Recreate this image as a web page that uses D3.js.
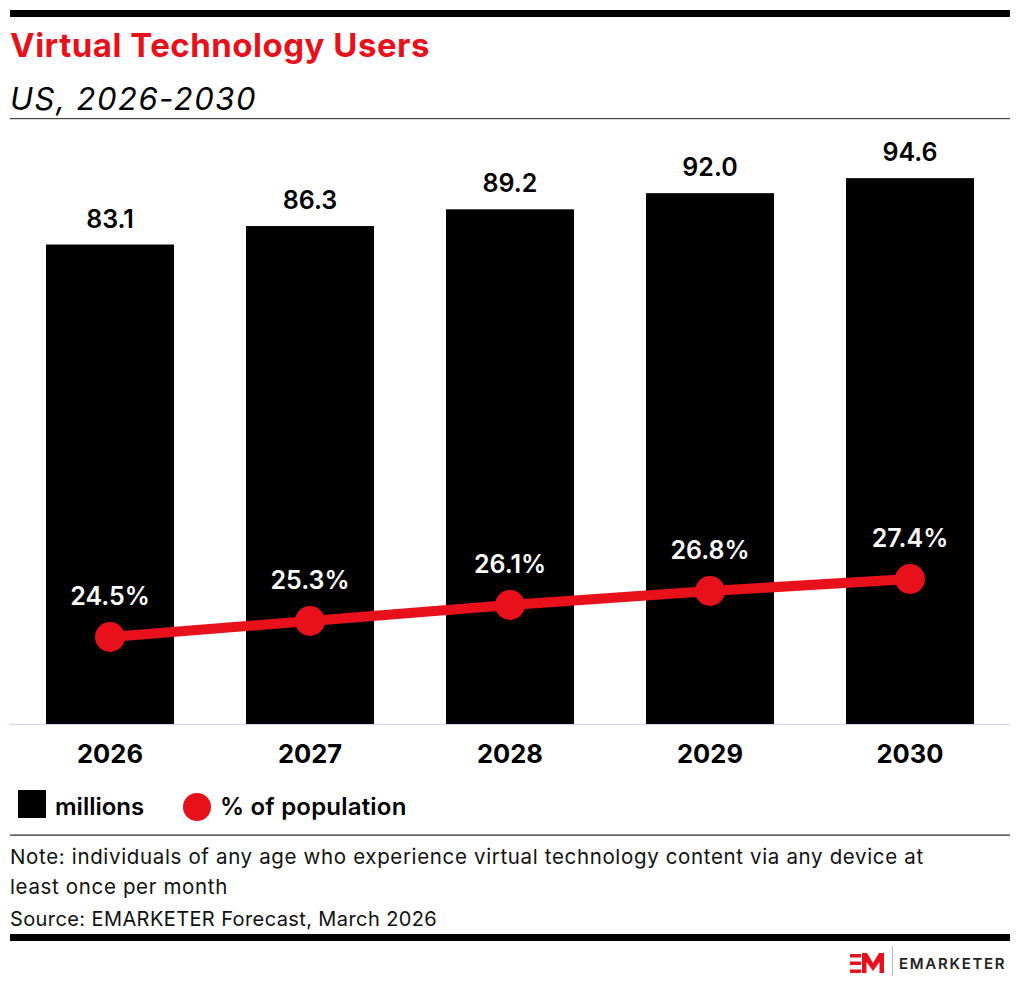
<!DOCTYPE html>
<html>
<head>
<meta charset="utf-8">
<script src="https://cdn.jsdelivr.net/npm/d3@7"></script>
<style>
  html, body { margin: 0; padding: 0; background: #fff; }
  svg { display: block; }
  text { font-family: Inter, "Noto Sans", sans-serif; }
</style>
</head>
<body>
<svg id="chart" width="1020" height="984"></svg>
<script>
const years = ["2026", "2027", "2028", "2029", "2030"];
const millions = [83.1, 86.3, 89.2, 92.0, 94.6];
const pctPopulation = [24.5, 25.3, 26.1, 26.8, 27.4];
const legendLabels = ["millions", "% of population"];
const titleText = "Virtual Technology Users";
const subtitleText = "US, 2026-2030";
const noteLines = ["Note: individuals of any age who experience virtual technology content via any device at", "least once per month"];
const sourceText = "Source: EMARKETER Forecast, March 2026";

const RED = "#e8111b";
const svg = d3.select("#chart");

// frame rules
svg.append("rect").attr("x", 10).attr("y", 10).attr("width", 1000).attr("height", 7).attr("fill", "#000");
svg.append("text").attr("x", 10).attr("y", 57).attr("fill", RED)
  .attr("font-size", 33).attr("font-weight", 700).attr("letter-spacing", 0.5).text(titleText);
svg.append("text").attr("x", 10).attr("y", 110).attr("fill", "#000")
  .attr("font-size", 31).attr("font-style", "italic").attr("font-weight", 400)
  .attr("letter-spacing", 1.5).text(subtitleText);
svg.append("rect").attr("x", 10).attr("y", 118).attr("width", 1000).attr("height", 1.2).attr("fill", "#444");

// scales
const x = d3.scaleBand().domain(years).range([10, 1010]).paddingInner(0.36).paddingOuter(0.18);
const y = d3.scaleLinear().domain([0, 100]).range([724, 147]);
const y2 = d3.scaleLinear().domain([20, 30]).range([727, 527]);

// baseline
svg.append("line").attr("x1", 10).attr("x2", 1010).attr("y1", y(0) + 0.5).attr("y2", y(0) + 0.5)
  .attr("stroke", "#c9d9ee").attr("stroke-width", 1);

// bars
const data = years.map((yr, i) => ({ yr, m: millions[i], p: pctPopulation[i] }));
svg.append("g").selectAll("rect").data(data).join("rect")
  .attr("x", d => x(d.yr)).attr("width", x.bandwidth())
  .attr("y", d => y(d.m)).attr("height", d => y(0) - y(d.m))
  .attr("fill", "#000");

svg.append("g").selectAll("text").data(data).join("text")
  .attr("x", d => x(d.yr) + x.bandwidth() / 2).attr("y", d => y(d.m) - 17)
  .attr("text-anchor", "middle").attr("font-size", 25).attr("font-weight", 600)
  .attr("fill", "#000").text(d => d.m.toFixed(1));

// x axis labels
const xAxis = d3.axisBottom(x).tickSize(0).tickPadding(0);
const gx = svg.append("g").attr("transform", `translate(0,${y(0)})`).call(xAxis);
gx.select(".domain").remove();
gx.selectAll("text").attr("dy", null).attr("y", 39)
  .attr("font-size", 25.5).attr("font-weight", 700).attr("fill", "#000")
  .style("font-family", "Inter, 'Noto Sans', sans-serif");

// line
const cx = d => x(d.yr) + x.bandwidth() / 2;
const line = d3.line().x(cx).y(d => y2(d.p));
svg.append("path").datum(data).attr("d", line).attr("fill", "none")
  .attr("stroke", RED).attr("stroke-width", 10);
svg.append("g").selectAll("circle").data(data).join("circle")
  .attr("cx", cx).attr("cy", d => y2(d.p)).attr("r", 15).attr("fill", RED);
svg.append("g").selectAll("text").data(data).join("text")
  .attr("x", cx).attr("y", d => y2(d.p) - 32)
  .attr("text-anchor", "middle").attr("font-size", 25).attr("font-weight", 600)
  .attr("fill", "#fff").text(d => d.p.toFixed(1) + "%");

// legend
const lg = svg.append("g");
lg.append("rect").attr("x", 18).attr("y", 790).attr("width", 28).attr("height", 28).attr("fill", "#000");
lg.append("text").attr("x", 55).attr("y", 815).attr("font-size", 24).attr("font-weight", 600).attr("fill", "#000").text(legendLabels[0]);
lg.append("circle").attr("cx", 197).attr("cy", 807).attr("r", 14).attr("fill", RED);
lg.append("text").attr("x", 220).attr("y", 815).attr("font-size", 24).attr("font-weight", 600)
  .attr("letter-spacing", 0.2).attr("fill", "#000").text(legendLabels[1]);

svg.append("rect").attr("x", 10).attr("y", 834.5).attr("width", 1000).attr("height", 1.2).attr("fill", "#222");

// notes
const notes = svg.append("g").attr("font-size", 20.5).attr("fill", "#111");
noteLines.forEach((t, i) => notes.append("text").attr("x", 10).attr("y", 864 + i * 30)
  .attr("letter-spacing", 0.65).text(t));
notes.append("text").attr("x", 10).attr("y", 926).attr("font-size", 20)
  .attr("letter-spacing", 0.4).text(sourceText);

svg.append("rect").attr("x", 10).attr("y", 934).attr("width", 1000).attr("height", 7).attr("fill", "#000");

// logo
const logo = svg.append("g").attr("fill", RED);
logo.append("rect").attr("x", 850).attr("y", 954).attr("width", 11).attr("height", 3.5);
logo.append("rect").attr("x", 850).attr("y", 961.5).attr("width", 11).attr("height", 3.5);
logo.append("rect").attr("x", 850).attr("y", 969.5).attr("width", 11).attr("height", 3.5);
logo.append("path").attr("d", "M862,973 L862,953 L867,953 L873,963 L879,953 L884,953 L884,973 L879.5,973 L879.5,962 L873,971 L866.5,962 L866.5,973 Z");
svg.append("line").attr("x1", 892.5).attr("x2", 892.5).attr("y1", 946).attr("y2", 976).attr("stroke", "#bbb").attr("stroke-width", 1);
svg.append("text").attr("x", 899).attr("y", 968.5).attr("font-size", 15).attr("font-weight", 600)
  .attr("letter-spacing", 1.7).attr("fill", "#222").text("EMARKETER");
</script>
</body>
</html>
